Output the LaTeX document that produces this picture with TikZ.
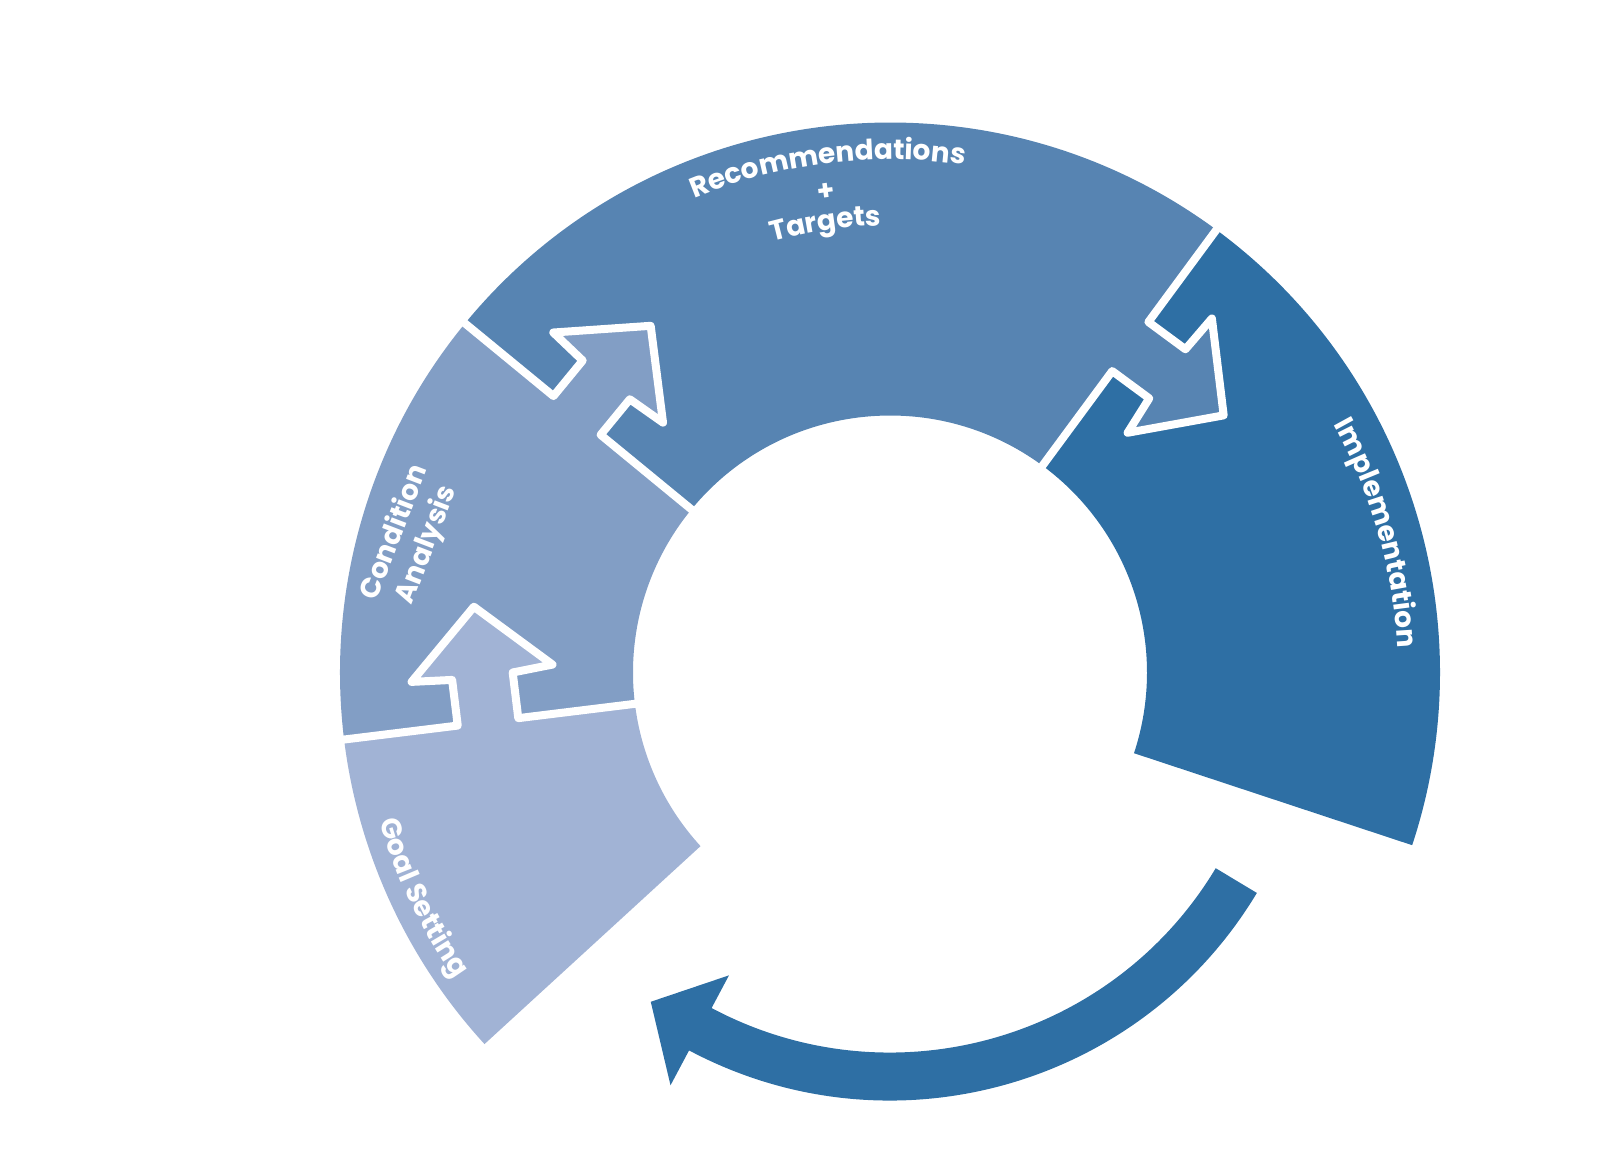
\documentclass[tikz,border=0pt]{standalone}
\usepackage{fontspec}
\setmainfont{Poppins}
\usetikzlibrary{decorations.text}
\definecolor{cgoal}{HTML}{A1B3D5}
\definecolor{ccond}{HTML}{829EC5}
\definecolor{crec}{HTML}{5784B2}
\definecolor{cimp}{HTML}{2E6FA4}
\newcommand\lblfont{\fontsize{28}{34}\selectfont\bfseries}
\newcommand\ringsector[3]{% start angle, end angle, colour
  \fill[#3] (#1:550pt) arc[start angle=#1, end angle=#2, radius=550pt]
    -- (#2:257pt) arc[start angle=#2, end angle=#1, radius=257pt] -- cycle;}
\newcommand\flowarrow[2]{% boundary angle, colour of the arrow
  \begin{scope}[rotate=#1]
    \fill[#2] (374.5,4) -- (435.5,4) -- (435.5,-46) -- (476,-49) -- (405,-116)
      -- (334,-49) -- (374.5,-46) -- cycle;
    \draw[gap] (560,0) -- (435.5,0) -- (435.5,-46) -- (476,-49) -- (405,-116)
      -- (334,-49) -- (374.5,-46) -- (374.5,0) -- (245,0);
  \end{scope}}
\begin{document}
\begin{tikzpicture}[x=1pt,y=1pt,
  gap/.style={draw=white, line width=8pt, line join=round},
  lbl/.style={text=white, font=\lblfont, inner sep=0pt},
  curved/.style={decorate, decoration={text along path, text align=center,
      text color=white, text={|\lblfont|#1}}}]
\useasboundingbox (-890,-484.5) rectangle (712,672.5);
% ring segments
\ringsector{222.5}{187}{cgoal}
\ringsector{187}{140.6}{ccond}
\ringsector{140.6}{53.6}{crec}
\ringsector{53.6}{-18.3}{cimp}
% arrows through the boundaries
\flowarrow{187}{cgoal}
\flowarrow{140.6}{ccond}
\flowarrow{53.6}{crec}
% return arrow
\fill[cimp] (-31:428pt) arc[start angle=-31, end angle=-118, radius=428pt]
  -- (242:467.5pt) -- (234:407pt) -- (242:343pt) -- (242:380pt)
  arc[start angle=-118, end angle=-31, radius=380pt] -- cycle;
% labels
\path[curved={Recommendations}] (127:513pt) arc[start angle=127, end angle=67, radius=513pt];
\node[lbl, rotate=7.6] (plus) at (97.6:485pt) {+};
\path[curved={Targets}] (128.2:447pt) arc[start angle=128.2, end angle=68.2, radius=447pt];
\path[curved={Implementation}] (46:508pt) arc[start angle=46, end angle=-14, radius=508pt];
\path[curved={Goal Setting}] (175.7:532pt) arc[start angle=175.7, end angle=235.7, radius=532pt];
\node[lbl, align=center, rotate=69] (cond) at (-478.8,133.6) {Condition\\Analysis};
\end{tikzpicture}
\end{document}
